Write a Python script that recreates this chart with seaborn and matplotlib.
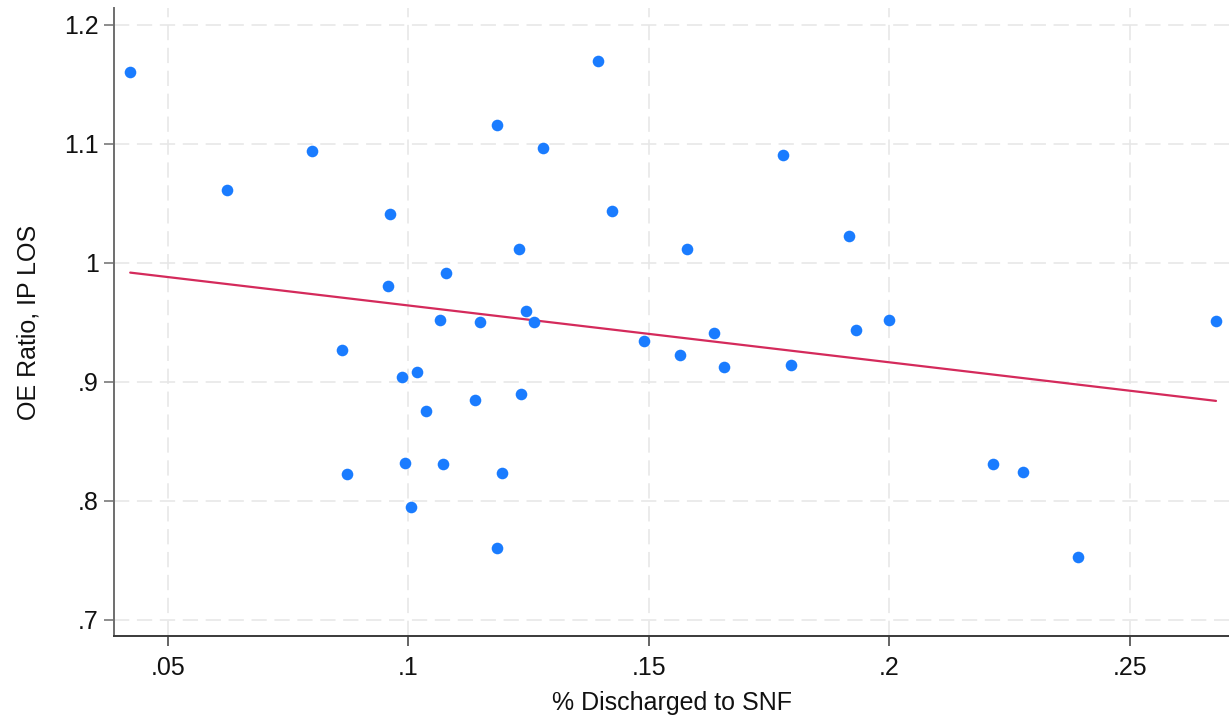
import numpy as np
import pandas as pd
import seaborn as sns
import matplotlib.pyplot as plt

# Share of patients discharged to SNF vs. observed/expected IP length-of-stay ratio
pct_snf = [
    0.0422, 0.0623, 0.0800, 0.0963, 0.0958, 0.0863, 0.0873, 0.0987, 0.0993, 0.1005,
    0.1018, 0.1037, 0.1072, 0.1065, 0.1079, 0.1149, 0.1138, 0.1185, 0.1185, 0.1195,
    0.1230, 0.1234, 0.1245, 0.1262, 0.1280, 0.1395, 0.1424, 0.1490, 0.1564, 0.1580,
    0.1635, 0.1657, 0.1779, 0.1795, 0.1917, 0.1930, 0.1999, 0.2215, 0.2278, 0.2392,
    0.2679,
]
oe_ratio = [
    1.160, 1.061, 1.094, 1.041, 0.9805, 0.9268, 0.8224, 0.9038, 0.8316, 0.7945,
    0.908, 0.875, 0.8308, 0.9516, 0.991, 0.9503, 0.8842, 1.116, 0.760, 0.823,
    1.0117, 0.8895, 0.9597, 0.9505, 1.0962, 1.169, 1.043, 0.9346, 0.9228, 1.0115,
    0.941, 0.9125, 1.0906, 0.9139, 1.0227, 0.9438, 0.9519, 0.8308, 0.8238, 0.7528,
    0.951,
]
x_ticks = [0.05, 0.10, 0.15, 0.20, 0.25]
x_labels = [".05", ".1", ".15", ".2", ".25"]
y_ticks = [0.7, 0.8, 0.9, 1.0, 1.1, 1.2]
y_labels = [".7", ".8", ".9", "1", "1.1", "1.2"]

df = pd.DataFrame({"snf": pct_snf, "oe": oe_ratio})

sns.set_style("white")
plt.rcParams["font.family"] = ["Liberation Sans", "DejaVu Sans"]

fig = plt.figure(figsize=(12.29, 7.19), dpi=100)
ax = fig.add_axes([0.0928, 0.115, 0.9072, 0.874])

# scatter + linear fit (like Stata's lfit)
sns.regplot(
    data=df, x="snf", y="oe", ax=ax, ci=None,
    scatter_kws={"s": 70, "color": "#1a7cff", "linewidths": 0, "alpha": 1, "zorder": 3},
    line_kws={"color": "#d42a5b", "lw": 1.6, "zorder": 2},
)

ax.set_xlim(0.03884, 0.2706)
ax.set_ylim(0.6861, 1.214)
ax.set_xticks(x_ticks, x_labels)
ax.set_yticks(y_ticks, y_labels)

ax.grid(True, color="#e6e6e6", linestyle=(0, (10, 5)), linewidth=1.1, zorder=0)
ax.set_axisbelow(True)

for side in ["top", "right"]:
    ax.spines[side].set_visible(False)
ax.spines["left"].set_color("#6e6e6e")
ax.spines["bottom"].set_color("#3a3a3a")
ax.spines["left"].set_linewidth(1.4)
ax.spines["bottom"].set_linewidth(1.4)

ax.tick_params(axis="both", direction="out", length=7, width=1.1,
               labelsize=18, colors="#111111", left=True, bottom=True)
ax.tick_params(axis="y", pad=4, color="#6e6e6e")
ax.tick_params(axis="x", pad=7, color="#3a3a3a")

ax.set_xlabel("% Discharged to SNF", fontsize=18, color="#111111", labelpad=8)
ax.set_ylabel("OE Ratio, IP LOS", fontsize=18, color="#111111", labelpad=17)

fig.savefig("out.png", dpi=100)
